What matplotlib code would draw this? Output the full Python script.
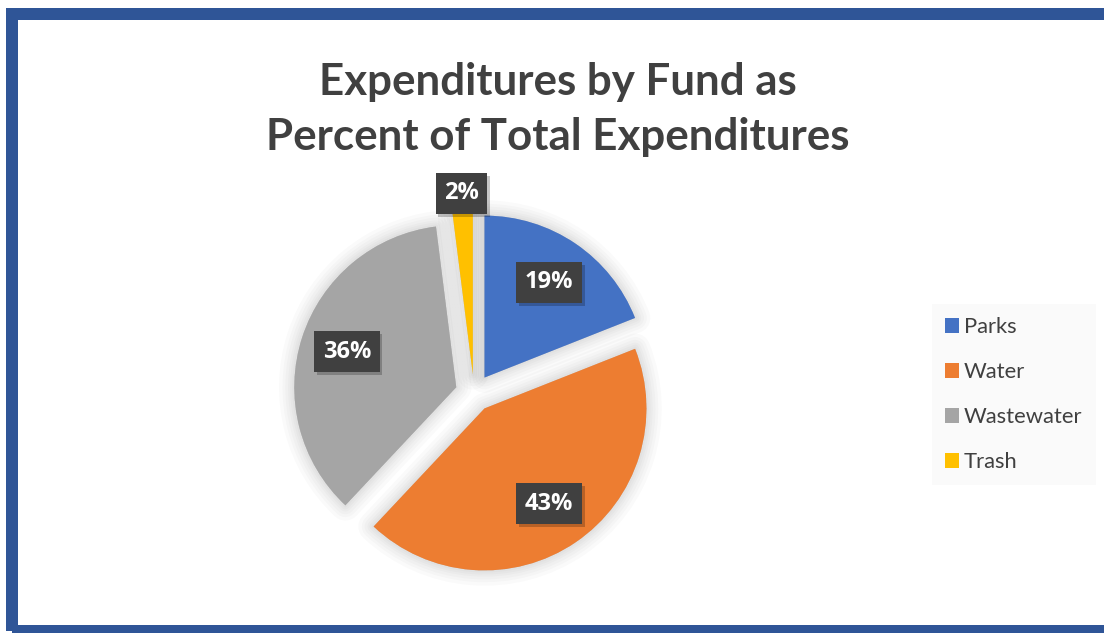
import numpy as np
import matplotlib
matplotlib.use("Agg")
import matplotlib.pyplot as plt
import matplotlib.patheffects as pe
from matplotlib.patches import Rectangle

plt.rcParams["font.family"] = ["Lato", "DejaVu Sans"]

# data
funds = ["Parks", "Water", "Wastewater", "Trash"]
shares = [19, 43, 36, 2]
colors = ["#4472C4", "#ED7D31", "#A5A5A5", "#FFC000"]
title_lines = ["Expenditures by Fund as", "Percent of Total Expenditures"]

W, H = 1104, 633
fig = plt.figure(figsize=(W / 100, H / 100), dpi=100)
fig.patch.set_facecolor("white")
ax = fig.add_axes([0, 0, 1, 1])

center = (474, H - 393)
radius = 162
# pie() offsets by explode in data units, so scale by the radius
explode = [0.115 * radius] * len(shares)

# soft glow under the slices
for lw in [22, 17, 13, 9, 6, 3]:
    sw, _ = ax.pie(shares, explode=explode, colors=["black"] * len(shares),
                   startangle=90, counterclock=False, center=center, radius=radius,
                   wedgeprops=dict(edgecolor="black", linewidth=lw, alpha=0.018,
                                   joinstyle="round"))
    for w in sw:
        w.set_zorder(1)

wedges, _, autotexts = ax.pie(
    shares, explode=explode, colors=colors, startangle=90, counterclock=False,
    center=center, radius=radius, autopct="%1.0f%%", pctdistance=0.71,
    wedgeprops=dict(linewidth=0),
    textprops=dict(color="white", fontsize=17, fontweight="bold",
                   family=["Open Sans", "DejaVu Sans"]),
)
for w in wedges:
    w.set_zorder(2)

# small slice label sits outside
w = wedges[3]
th = np.deg2rad((w.theta1 + w.theta2) / 2)
autotexts[3].set_position((w.center[0] + 1.12 * w.r * np.cos(th),
                           w.center[1] + 1.12 * w.r * np.sin(th)))

for t in autotexts:
    t.set_zorder(5)
    t.set_bbox(dict(boxstyle="square,pad=0.36", facecolor="#404040",
                    edgecolor="none", linewidth=0))
    t.get_bbox_patch().set_path_effects([
        pe.SimplePatchShadow(offset=(2, -2), shadow_rgbFace="black", alpha=0.22),
        pe.Normal(),
    ])

ax.set_xlim(0, W)
ax.set_ylim(0, H)
ax.set_aspect("equal")
ax.axis("off")

# title
fig.text(558 / W, 1 - 95 / H, title_lines[0], ha="center", va="baseline",
         fontsize=31.6, fontweight="bold", color="#404040")
fig.text(558 / W, 1 - 150 / H, title_lines[1], ha="center", va="baseline",
         fontsize=31.6, fontweight="bold", color="#404040")

leg = ax.legend(wedges, funds, loc="upper left",
                bbox_to_anchor=(932 / W, 1 - 304 / H), bbox_transform=fig.transFigure,
                frameon=True, fancybox=False, facecolor="#f9f9f9", edgecolor="none",
                fontsize=15.8, labelspacing=1.14, borderpad=0.6, borderaxespad=0,
                handlelength=0.64, handleheight=0.64, handletextpad=0.22)
for txt in leg.get_texts():
    txt.set_color("#404040")

# blue frame around the chart
fig.patches.append(Rectangle((11.5 / W, 1 - 630.5 / H), (1108 - 11.5) / W,
                             (630.5 - 13.5) / H, transform=fig.transFigure,
                             fill=False, edgecolor="#2F5597", linewidth=8.64,
                             joinstyle="miter", zorder=10))

fig.savefig("out.png", dpi=100)
